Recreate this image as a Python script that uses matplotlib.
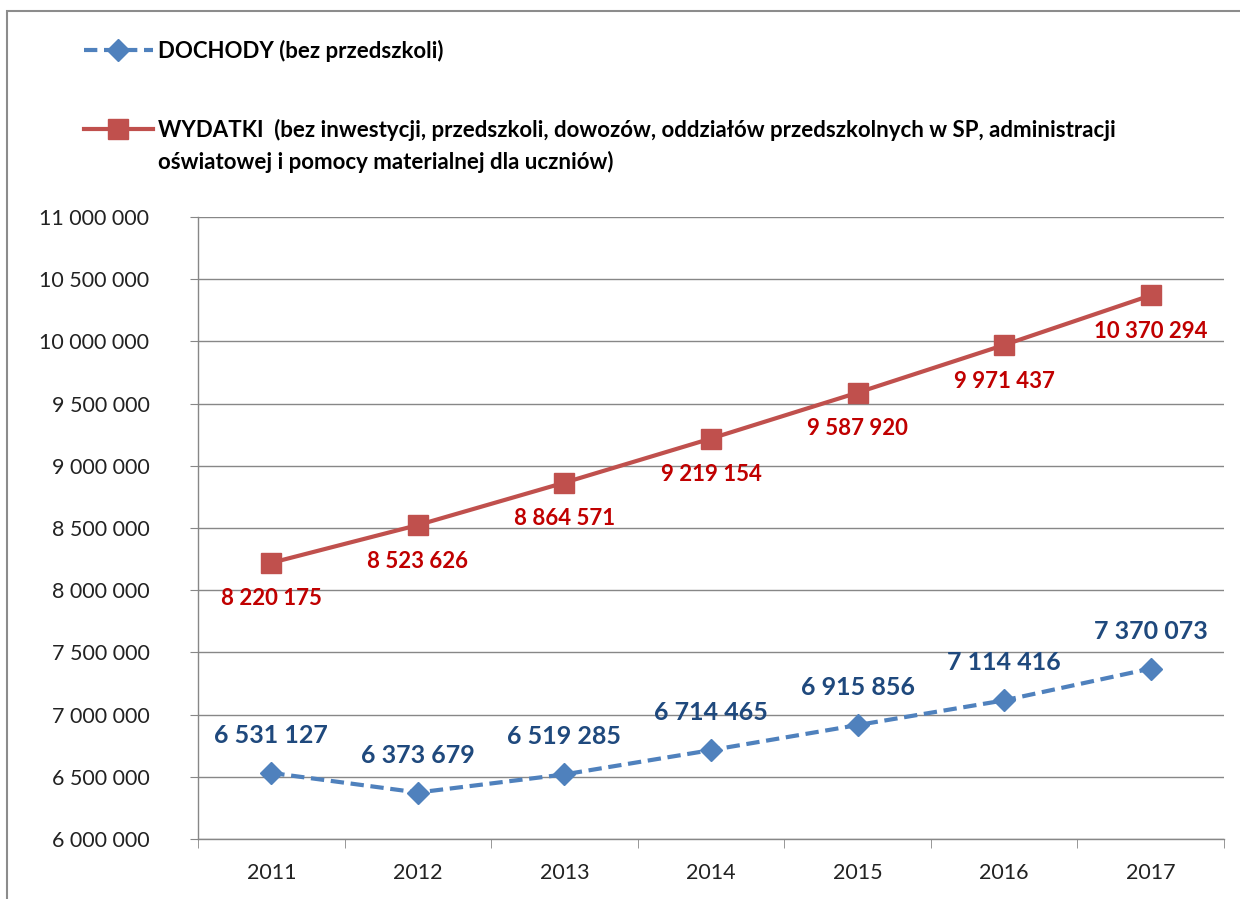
import numpy as np
import matplotlib
matplotlib.use("Agg")
import matplotlib.pyplot as plt
from matplotlib.ticker import FuncFormatter, FixedLocator
from matplotlib.patches import Rectangle

plt.rcParams['font.family'] = ['Lato', 'DejaVu Sans']

# data
years = ["2011", "2012", "2013", "2014", "2015", "2016", "2017"]
dochody = [6531127, 6373679, 6519285, 6714465, 6915856, 7114416, 7370073]
wydatki = [8220175, 8523626, 8864571, 9219154, 9587920, 9971437, 10370294]

label_dochody = "DOCHODY (bez przedszkoli)"
label_wydatki = "WYDATKI  (bez inwestycji, przedszkoli, dowozów, oddziałów przedszkolnych w SP, administracji"
label_wydatki_2 = "oświatowej i pomocy materialnej dla uczniów)"

blue = "#4F81BD"
red = "#C0504D"
blue_txt = "#1F497D"
red_txt = "#C00000"
grid_col = "#878787"


def fmt(v):
    return f"{v:,.0f}".replace(",", " ")


fig = plt.figure(figsize=(12.4, 8.99), dpi=100)
fig.patch.set_facecolor("white")

# outer chart frame
fig.patches.append(Rectangle((7 / 1240, -0.05), 1.2, 1 - 11 / 899 + 0.05,
                             transform=fig.transFigure, fill=False,
                             edgecolor="#8c8c8c", linewidth=1.5))

ax = fig.add_axes([198 / 1240, 1 - 839 / 899, (1224 - 198) / 1240, (839 - 217) / 899])
x = np.arange(len(years))

l1, = ax.plot(x, dochody, color=blue, linewidth=3, linestyle=(0, (3.2, 1.6)),
              marker="D", markersize=11, markerfacecolor=blue, markeredgecolor=blue, zorder=3)
l2, = ax.plot(x, wydatki, color=red, linewidth=3, marker="s", markersize=14,
              markerfacecolor=red, markeredgecolor=red, zorder=3)

for xi, v in zip(x, dochody):
    ax.annotate(fmt(v), (xi, v), xytext=(0, 27), textcoords="offset points",
                ha="center", va="center", fontsize=18, fontweight="bold", color=blue_txt)
for xi, v in zip(x, wydatki):
    ax.annotate(fmt(v), (xi, v), xytext=(0, -26), textcoords="offset points",
                ha="center", va="center", fontsize=16, fontweight="bold", color=red_txt)

ax.set_xlim(-0.5, len(years) - 0.5)
ax.set_ylim(6000000, 11000000)
ax.set_yticks(np.arange(6000000, 11000001, 500000))
ax.yaxis.set_major_formatter(FuncFormatter(lambda v, p: fmt(v)))
ax.set_xticks(x)
ax.set_xticklabels(years)
ax.xaxis.set_minor_locator(FixedLocator(np.arange(-0.5, len(years), 1.0)))

ax.grid(axis="y", color=grid_col, linewidth=1)
ax.set_axisbelow(True)
for s in ["top", "right"]:
    ax.spines[s].set_visible(False)
for s in ["left", "bottom"]:
    ax.spines[s].set_color(grid_col)
    ax.spines[s].set_linewidth(1)

ax.tick_params(axis="y", length=6, color=grid_col, labelsize=15.5, pad=29, labelcolor="#222222")
ax.tick_params(axis="x", which="major", length=0, labelsize=15.5, pad=17, labelcolor="#222222")
ax.tick_params(axis="x", which="minor", length=6.5, color=grid_col)

leg = fig.legend([l1, l2], [label_dochody, label_wydatki], loc="upper left",
                 bbox_to_anchor=(64 / 1240, 1 - 20 / 899), frameon=False,
                 prop={"weight": "bold", "size": 16},
                 handlelength=3.1, handletextpad=0.25, labelspacing=2.57)

# second line of the long legend label, placed under the first one
fig.canvas.draw()
bb = leg.get_texts()[1].get_window_extent()
fig.text(bb.x0 / fig.bbox.width, (bb.y0 - 32) / fig.bbox.height, label_wydatki_2,
         ha="left", va="bottom", fontsize=16, fontweight="bold", color="black")

fig.savefig("out.png", dpi=100, facecolor="white")
